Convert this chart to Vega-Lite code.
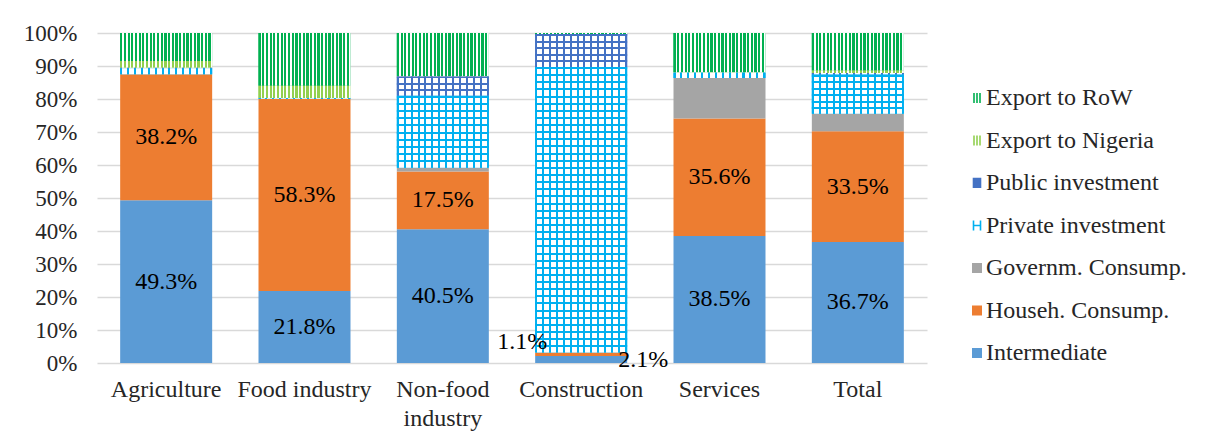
{
  "$schema": "https://vega.github.io/schema/vega-lite/v6.json",
  "width": 830,
  "height": 330,
  "autosize": {"type": "none"},
  "padding": {"left": 97, "top": 33, "right": 285, "bottom": 85},
  "background": "white",
  "resolve": {"axis": {"y": "independent"}},
  "config": {
    "font": "Liberation Serif",
    "view": {"stroke": null},
    "axis": {"labelFont": "Liberation Serif", "labelFontSize": 23, "labelColor": "#262626", "title": null},
    "legend": {"labelFont": "Liberation Serif", "labelFontSize": 24, "labelColor": "#262626", "labelLimit": 0}
  },
  "data": {
    "values": [
      {"category": "Agriculture", "series": "Intermediate", "rank": 1, "value": 0.493},
      {"category": "Agriculture", "series": "Househ. Consump.", "rank": 2, "value": 0.382},
      {"category": "Agriculture", "series": "Private investment", "rank": 4, "value": 0.018},
      {"category": "Agriculture", "series": "Public investment", "rank": 5, "value": 0.002},
      {"category": "Agriculture", "series": "Export to Nigeria", "rank": 6, "value": 0.02},
      {"category": "Agriculture", "series": "Export to RoW", "rank": 7, "value": 0.085},
      {"category": "Food industry", "series": "Intermediate", "rank": 1, "value": 0.218},
      {"category": "Food industry", "series": "Househ. Consump.", "rank": 2, "value": 0.583},
      {"category": "Food industry", "series": "Private investment", "rank": 4, "value": 0.002},
      {"category": "Food industry", "series": "Export to Nigeria", "rank": 6, "value": 0.037},
      {"category": "Food industry", "series": "Export to RoW", "rank": 7, "value": 0.16},
      {"category": "Non-food industry", "series": "Intermediate", "rank": 1, "value": 0.405},
      {"category": "Non-food industry", "series": "Househ. Consump.", "rank": 2, "value": 0.175},
      {"category": "Non-food industry", "series": "Governm. Consump.", "rank": 3, "value": 0.012},
      {"category": "Non-food industry", "series": "Private investment", "rank": 4, "value": 0.218},
      {"category": "Non-food industry", "series": "Public investment", "rank": 5, "value": 0.058},
      {"category": "Non-food industry", "series": "Export to Nigeria", "rank": 6, "value": 0.002},
      {"category": "Non-food industry", "series": "Export to RoW", "rank": 7, "value": 0.13},
      {"category": "Construction", "series": "Intermediate", "rank": 1, "value": 0.021},
      {"category": "Construction", "series": "Househ. Consump.", "rank": 2, "value": 0.011},
      {"category": "Construction", "series": "Private investment", "rank": 4, "value": 0.865},
      {"category": "Construction", "series": "Public investment", "rank": 5, "value": 0.1},
      {"category": "Construction", "series": "Export to RoW", "rank": 7, "value": 0.003},
      {"category": "Services", "series": "Intermediate", "rank": 1, "value": 0.385},
      {"category": "Services", "series": "Househ. Consump.", "rank": 2, "value": 0.356},
      {"category": "Services", "series": "Governm. Consump.", "rank": 3, "value": 0.123},
      {"category": "Services", "series": "Private investment", "rank": 4, "value": 0.016},
      {"category": "Services", "series": "Export to Nigeria", "rank": 6, "value": 0.002},
      {"category": "Services", "series": "Export to RoW", "rank": 7, "value": 0.118},
      {"category": "Total", "series": "Intermediate", "rank": 1, "value": 0.367},
      {"category": "Total", "series": "Househ. Consump.", "rank": 2, "value": 0.335},
      {"category": "Total", "series": "Governm. Consump.", "rank": 3, "value": 0.053},
      {"category": "Total", "series": "Private investment", "rank": 4, "value": 0.119},
      {"category": "Total", "series": "Public investment", "rank": 5, "value": 0.005},
      {"category": "Total", "series": "Export to Nigeria", "rank": 6, "value": 0.007},
      {"category": "Total", "series": "Export to RoW", "rank": 7, "value": 0.114}
    ]
  },
  "transform": [
    {"stack": "value", "groupby": ["category"], "sort": [{"field": "rank", "order": "ascending"}], "as": ["y0", "y1"]}
  ],
  "encoding": {
    "x": {
      "field": "category", "type": "nominal",
      "sort": ["Agriculture", "Food industry", "Non-food industry", "Construction", "Services", "Total"],
      "scale": {"paddingInner": 0.335, "paddingOuter": 0.1675},
      "axis": {
        "title": null, "domain": false, "ticks": false, "tickSize": 0, "labelAngle": 0, "labelPadding": 14,
        "labelFontSize": 24, "labelLineHeight": 29, "labelLimit": 0,
        "labelExpr": "datum.label == 'Non-food industry' ? ['Non-food', 'industry'] : datum.label"
      }
    }
  },
  "layer": [
    {
      "mark": {"type": "bar"},
      "encoding": {
        "y": {
          "field": "y0", "type": "quantitative", "scale": {"domain": [0, 1], "nice": false},
          "axis": {"title": null, "values": [0, 0.1, 0.2, 0.3, 0.4, 0.5, 0.6, 0.7, 0.8, 0.9, 1], "format": ".0%", "labelOverlap": false, "domain": false, "ticks": false, "tickSize": 0, "labelPadding": 20, "grid": true, "gridColor": "#D9D9D9", "gridWidth": 1.5}
        },
        "y2": {"field": "y1"},
        "color": {
          "field": "series", "type": "nominal",
          "scale": {
            "domain": ["Export to RoW", "Export to Nigeria", "Public investment", "Private investment", "Governm. Consump.", "Househ. Consump.", "Intermediate"],
            "range": ["#00B050", "#92D050", "#4472C4", "#00B0F0", "#A5A5A5", "#ED7D31", "#5B9BD5"]
          },
          "legend": {
            "title": null, "orient": "none", "legendX": 868, "legendY": 53, "padding": 0,
            "symbolSize": 100, "rowPadding": 18.5, "labelOffset": -3, "symbolStrokeWidth": 1.5, "labelLimit": 0,
            "encode": {
              "symbols": {
                "update": {
                  "shape": {"signal": "(datum.label === 'Export to RoW' || datum.label === 'Export to Nigeria') ? 'M-0.6,-1V1M0,-1V1M0.6,-1V1' : datum.label === 'Public investment' ? 'M-0.7,1V-0.9H0.7V1M-0.7,0H0.7' : datum.label === 'Private investment' ? 'M-0.7,-1V1M0.7,-1V1M-0.7,0H0.7' : 'square'"},
                  "fill": {"signal": "indexof(['Export to RoW','Export to Nigeria','Public investment','Private investment'], datum.label) >= 0 ? 'transparent' : scale('color', datum.value)"},
                  "stroke": {"signal": "indexof(['Export to RoW','Export to Nigeria','Public investment','Private investment'], datum.label) >= 0 ? scale('color', datum.value) : 'transparent'"},
                  "strokeWidth": {"value": 1.6}
                }
              }
            }
          }
        },
        "order": {"field": "rank", "type": "quantitative"}
      }
    },
    {
      "transform": [{"filter": {"field": "series", "equal": "Export to RoW"}}],
      "mark": {"type": "bar", "fill": {"gradient": "linear", "x1": 0, "y1": 0, "x2": 1, "y2": 0, "stops": [
        {"offset": 0, "color": "#00B050"}, {"offset": 0.024, "color": "#00B050"}, {"offset": 0.024, "color": "#ffffff"}, {"offset": 0.04, "color": "#ffffff"},
        {"offset": 0.04, "color": "#00B050"}, {"offset": 0.064, "color": "#00B050"}, {"offset": 0.064, "color": "#ffffff"}, {"offset": 0.08, "color": "#ffffff"},
        {"offset": 0.08, "color": "#00B050"}, {"offset": 0.104, "color": "#00B050"}, {"offset": 0.104, "color": "#ffffff"}, {"offset": 0.12, "color": "#ffffff"},
        {"offset": 0.12, "color": "#00B050"}, {"offset": 0.144, "color": "#00B050"}, {"offset": 0.144, "color": "#ffffff"}, {"offset": 0.16, "color": "#ffffff"},
        {"offset": 0.16, "color": "#00B050"}, {"offset": 0.184, "color": "#00B050"}, {"offset": 0.184, "color": "#ffffff"}, {"offset": 0.2, "color": "#ffffff"},
        {"offset": 0.2, "color": "#00B050"}, {"offset": 0.224, "color": "#00B050"}, {"offset": 0.224, "color": "#ffffff"}, {"offset": 0.24, "color": "#ffffff"},
        {"offset": 0.24, "color": "#00B050"}, {"offset": 0.264, "color": "#00B050"}, {"offset": 0.264, "color": "#ffffff"}, {"offset": 0.28, "color": "#ffffff"},
        {"offset": 0.28, "color": "#00B050"}, {"offset": 0.304, "color": "#00B050"}, {"offset": 0.304, "color": "#ffffff"}, {"offset": 0.32, "color": "#ffffff"},
        {"offset": 0.32, "color": "#00B050"}, {"offset": 0.344, "color": "#00B050"}, {"offset": 0.344, "color": "#ffffff"}, {"offset": 0.36, "color": "#ffffff"},
        {"offset": 0.36, "color": "#00B050"}, {"offset": 0.384, "color": "#00B050"}, {"offset": 0.384, "color": "#ffffff"}, {"offset": 0.4, "color": "#ffffff"},
        {"offset": 0.4, "color": "#00B050"}, {"offset": 0.424, "color": "#00B050"}, {"offset": 0.424, "color": "#ffffff"}, {"offset": 0.44, "color": "#ffffff"},
        {"offset": 0.44, "color": "#00B050"}, {"offset": 0.464, "color": "#00B050"}, {"offset": 0.464, "color": "#ffffff"}, {"offset": 0.48, "color": "#ffffff"},
        {"offset": 0.48, "color": "#00B050"}, {"offset": 0.504, "color": "#00B050"}, {"offset": 0.504, "color": "#ffffff"}, {"offset": 0.52, "color": "#ffffff"},
        {"offset": 0.52, "color": "#00B050"}, {"offset": 0.544, "color": "#00B050"}, {"offset": 0.544, "color": "#ffffff"}, {"offset": 0.56, "color": "#ffffff"},
        {"offset": 0.56, "color": "#00B050"}, {"offset": 0.584, "color": "#00B050"}, {"offset": 0.584, "color": "#ffffff"}, {"offset": 0.6, "color": "#ffffff"},
        {"offset": 0.6, "color": "#00B050"}, {"offset": 0.624, "color": "#00B050"}, {"offset": 0.624, "color": "#ffffff"}, {"offset": 0.64, "color": "#ffffff"},
        {"offset": 0.64, "color": "#00B050"}, {"offset": 0.664, "color": "#00B050"}, {"offset": 0.664, "color": "#ffffff"}, {"offset": 0.68, "color": "#ffffff"},
        {"offset": 0.68, "color": "#00B050"}, {"offset": 0.704, "color": "#00B050"}, {"offset": 0.704, "color": "#ffffff"}, {"offset": 0.72, "color": "#ffffff"},
        {"offset": 0.72, "color": "#00B050"}, {"offset": 0.744, "color": "#00B050"}, {"offset": 0.744, "color": "#ffffff"}, {"offset": 0.76, "color": "#ffffff"},
        {"offset": 0.76, "color": "#00B050"}, {"offset": 0.784, "color": "#00B050"}, {"offset": 0.784, "color": "#ffffff"}, {"offset": 0.8, "color": "#ffffff"},
        {"offset": 0.8, "color": "#00B050"}, {"offset": 0.824, "color": "#00B050"}, {"offset": 0.824, "color": "#ffffff"}, {"offset": 0.84, "color": "#ffffff"},
        {"offset": 0.84, "color": "#00B050"}, {"offset": 0.864, "color": "#00B050"}, {"offset": 0.864, "color": "#ffffff"}, {"offset": 0.88, "color": "#ffffff"},
        {"offset": 0.88, "color": "#00B050"}, {"offset": 0.904, "color": "#00B050"}, {"offset": 0.904, "color": "#ffffff"}, {"offset": 0.92, "color": "#ffffff"},
        {"offset": 0.92, "color": "#00B050"}, {"offset": 0.944, "color": "#00B050"}, {"offset": 0.944, "color": "#ffffff"}, {"offset": 0.96, "color": "#ffffff"},
        {"offset": 0.96, "color": "#00B050"}, {"offset": 0.984, "color": "#00B050"}, {"offset": 0.984, "color": "#ffffff"}, {"offset": 1, "color": "#ffffff"}
      ]}},
      "encoding": {"y": {"field": "y0", "type": "quantitative", "axis": null}, "y2": {"field": "y1"}}
    },
    {
      "transform": [{"filter": {"field": "series", "equal": "Export to Nigeria"}}],
      "mark": {"type": "bar", "fill": {"gradient": "linear", "x1": 0, "y1": 0, "x2": 1, "y2": 0, "stops": [
        {"offset": 0, "color": "#92D050"}, {"offset": 0.024, "color": "#92D050"}, {"offset": 0.024, "color": "#ffffff"}, {"offset": 0.04, "color": "#ffffff"},
        {"offset": 0.04, "color": "#92D050"}, {"offset": 0.064, "color": "#92D050"}, {"offset": 0.064, "color": "#ffffff"}, {"offset": 0.08, "color": "#ffffff"},
        {"offset": 0.08, "color": "#92D050"}, {"offset": 0.104, "color": "#92D050"}, {"offset": 0.104, "color": "#ffffff"}, {"offset": 0.12, "color": "#ffffff"},
        {"offset": 0.12, "color": "#92D050"}, {"offset": 0.144, "color": "#92D050"}, {"offset": 0.144, "color": "#ffffff"}, {"offset": 0.16, "color": "#ffffff"},
        {"offset": 0.16, "color": "#92D050"}, {"offset": 0.184, "color": "#92D050"}, {"offset": 0.184, "color": "#ffffff"}, {"offset": 0.2, "color": "#ffffff"},
        {"offset": 0.2, "color": "#92D050"}, {"offset": 0.224, "color": "#92D050"}, {"offset": 0.224, "color": "#ffffff"}, {"offset": 0.24, "color": "#ffffff"},
        {"offset": 0.24, "color": "#92D050"}, {"offset": 0.264, "color": "#92D050"}, {"offset": 0.264, "color": "#ffffff"}, {"offset": 0.28, "color": "#ffffff"},
        {"offset": 0.28, "color": "#92D050"}, {"offset": 0.304, "color": "#92D050"}, {"offset": 0.304, "color": "#ffffff"}, {"offset": 0.32, "color": "#ffffff"},
        {"offset": 0.32, "color": "#92D050"}, {"offset": 0.344, "color": "#92D050"}, {"offset": 0.344, "color": "#ffffff"}, {"offset": 0.36, "color": "#ffffff"},
        {"offset": 0.36, "color": "#92D050"}, {"offset": 0.384, "color": "#92D050"}, {"offset": 0.384, "color": "#ffffff"}, {"offset": 0.4, "color": "#ffffff"},
        {"offset": 0.4, "color": "#92D050"}, {"offset": 0.424, "color": "#92D050"}, {"offset": 0.424, "color": "#ffffff"}, {"offset": 0.44, "color": "#ffffff"},
        {"offset": 0.44, "color": "#92D050"}, {"offset": 0.464, "color": "#92D050"}, {"offset": 0.464, "color": "#ffffff"}, {"offset": 0.48, "color": "#ffffff"},
        {"offset": 0.48, "color": "#92D050"}, {"offset": 0.504, "color": "#92D050"}, {"offset": 0.504, "color": "#ffffff"}, {"offset": 0.52, "color": "#ffffff"},
        {"offset": 0.52, "color": "#92D050"}, {"offset": 0.544, "color": "#92D050"}, {"offset": 0.544, "color": "#ffffff"}, {"offset": 0.56, "color": "#ffffff"},
        {"offset": 0.56, "color": "#92D050"}, {"offset": 0.584, "color": "#92D050"}, {"offset": 0.584, "color": "#ffffff"}, {"offset": 0.6, "color": "#ffffff"},
        {"offset": 0.6, "color": "#92D050"}, {"offset": 0.624, "color": "#92D050"}, {"offset": 0.624, "color": "#ffffff"}, {"offset": 0.64, "color": "#ffffff"},
        {"offset": 0.64, "color": "#92D050"}, {"offset": 0.664, "color": "#92D050"}, {"offset": 0.664, "color": "#ffffff"}, {"offset": 0.68, "color": "#ffffff"},
        {"offset": 0.68, "color": "#92D050"}, {"offset": 0.704, "color": "#92D050"}, {"offset": 0.704, "color": "#ffffff"}, {"offset": 0.72, "color": "#ffffff"},
        {"offset": 0.72, "color": "#92D050"}, {"offset": 0.744, "color": "#92D050"}, {"offset": 0.744, "color": "#ffffff"}, {"offset": 0.76, "color": "#ffffff"},
        {"offset": 0.76, "color": "#92D050"}, {"offset": 0.784, "color": "#92D050"}, {"offset": 0.784, "color": "#ffffff"}, {"offset": 0.8, "color": "#ffffff"},
        {"offset": 0.8, "color": "#92D050"}, {"offset": 0.824, "color": "#92D050"}, {"offset": 0.824, "color": "#ffffff"}, {"offset": 0.84, "color": "#ffffff"},
        {"offset": 0.84, "color": "#92D050"}, {"offset": 0.864, "color": "#92D050"}, {"offset": 0.864, "color": "#ffffff"}, {"offset": 0.88, "color": "#ffffff"},
        {"offset": 0.88, "color": "#92D050"}, {"offset": 0.904, "color": "#92D050"}, {"offset": 0.904, "color": "#ffffff"}, {"offset": 0.92, "color": "#ffffff"},
        {"offset": 0.92, "color": "#92D050"}, {"offset": 0.944, "color": "#92D050"}, {"offset": 0.944, "color": "#ffffff"}, {"offset": 0.96, "color": "#ffffff"},
        {"offset": 0.96, "color": "#92D050"}, {"offset": 0.984, "color": "#92D050"}, {"offset": 0.984, "color": "#ffffff"}, {"offset": 1, "color": "#ffffff"}
      ]}},
      "encoding": {"y": {"field": "y0", "type": "quantitative", "axis": null}, "y2": {"field": "y1"}}
    },
    {
      "transform": [{"filter": {"field": "series", "equal": "Private investment"}}],
      "mark": {"type": "bar", "fill": {"gradient": "linear", "x1": 0, "y1": 0, "x2": 1, "y2": 0, "stops": [
        {"offset": 0, "color": "#00B0F0"}, {"offset": 0.022, "color": "#00B0F0"}, {"offset": 0.022, "color": "#ffffff"}, {"offset": 0.075, "color": "#ffffff"},
        {"offset": 0.075, "color": "#00B0F0"}, {"offset": 0.097, "color": "#00B0F0"}, {"offset": 0.097, "color": "#ffffff"}, {"offset": 0.15, "color": "#ffffff"},
        {"offset": 0.15, "color": "#00B0F0"}, {"offset": 0.172, "color": "#00B0F0"}, {"offset": 0.172, "color": "#ffffff"}, {"offset": 0.225, "color": "#ffffff"},
        {"offset": 0.225, "color": "#00B0F0"}, {"offset": 0.247, "color": "#00B0F0"}, {"offset": 0.247, "color": "#ffffff"}, {"offset": 0.3, "color": "#ffffff"},
        {"offset": 0.3, "color": "#00B0F0"}, {"offset": 0.322, "color": "#00B0F0"}, {"offset": 0.322, "color": "#ffffff"}, {"offset": 0.375, "color": "#ffffff"},
        {"offset": 0.375, "color": "#00B0F0"}, {"offset": 0.397, "color": "#00B0F0"}, {"offset": 0.397, "color": "#ffffff"}, {"offset": 0.45, "color": "#ffffff"},
        {"offset": 0.45, "color": "#00B0F0"}, {"offset": 0.472, "color": "#00B0F0"}, {"offset": 0.472, "color": "#ffffff"}, {"offset": 0.525, "color": "#ffffff"},
        {"offset": 0.525, "color": "#00B0F0"}, {"offset": 0.547, "color": "#00B0F0"}, {"offset": 0.547, "color": "#ffffff"}, {"offset": 0.6, "color": "#ffffff"},
        {"offset": 0.6, "color": "#00B0F0"}, {"offset": 0.622, "color": "#00B0F0"}, {"offset": 0.622, "color": "#ffffff"}, {"offset": 0.675, "color": "#ffffff"},
        {"offset": 0.675, "color": "#00B0F0"}, {"offset": 0.697, "color": "#00B0F0"}, {"offset": 0.697, "color": "#ffffff"}, {"offset": 0.75, "color": "#ffffff"},
        {"offset": 0.75, "color": "#00B0F0"}, {"offset": 0.772, "color": "#00B0F0"}, {"offset": 0.772, "color": "#ffffff"}, {"offset": 0.825, "color": "#ffffff"},
        {"offset": 0.825, "color": "#00B0F0"}, {"offset": 0.847, "color": "#00B0F0"}, {"offset": 0.847, "color": "#ffffff"}, {"offset": 0.9, "color": "#ffffff"},
        {"offset": 0.9, "color": "#00B0F0"}, {"offset": 0.922, "color": "#00B0F0"}, {"offset": 0.922, "color": "#ffffff"}, {"offset": 0.975, "color": "#ffffff"},
        {"offset": 0.975, "color": "#00B0F0"}, {"offset": 1, "color": "#00B0F0"}
      ]}},
      "encoding": {"y": {"field": "y0", "type": "quantitative", "axis": null}, "y2": {"field": "y1"}}
    },
    {
      "transform": [{"filter": {"field": "series", "equal": "Public investment"}}],
      "mark": {"type": "bar", "fill": {"gradient": "linear", "x1": 0, "y1": 0, "x2": 1, "y2": 0, "stops": [
        {"offset": 0, "color": "#4472C4"}, {"offset": 0.022, "color": "#4472C4"}, {"offset": 0.022, "color": "#ffffff"}, {"offset": 0.075, "color": "#ffffff"},
        {"offset": 0.075, "color": "#4472C4"}, {"offset": 0.097, "color": "#4472C4"}, {"offset": 0.097, "color": "#ffffff"}, {"offset": 0.15, "color": "#ffffff"},
        {"offset": 0.15, "color": "#4472C4"}, {"offset": 0.172, "color": "#4472C4"}, {"offset": 0.172, "color": "#ffffff"}, {"offset": 0.225, "color": "#ffffff"},
        {"offset": 0.225, "color": "#4472C4"}, {"offset": 0.247, "color": "#4472C4"}, {"offset": 0.247, "color": "#ffffff"}, {"offset": 0.3, "color": "#ffffff"},
        {"offset": 0.3, "color": "#4472C4"}, {"offset": 0.322, "color": "#4472C4"}, {"offset": 0.322, "color": "#ffffff"}, {"offset": 0.375, "color": "#ffffff"},
        {"offset": 0.375, "color": "#4472C4"}, {"offset": 0.397, "color": "#4472C4"}, {"offset": 0.397, "color": "#ffffff"}, {"offset": 0.45, "color": "#ffffff"},
        {"offset": 0.45, "color": "#4472C4"}, {"offset": 0.472, "color": "#4472C4"}, {"offset": 0.472, "color": "#ffffff"}, {"offset": 0.525, "color": "#ffffff"},
        {"offset": 0.525, "color": "#4472C4"}, {"offset": 0.547, "color": "#4472C4"}, {"offset": 0.547, "color": "#ffffff"}, {"offset": 0.6, "color": "#ffffff"},
        {"offset": 0.6, "color": "#4472C4"}, {"offset": 0.622, "color": "#4472C4"}, {"offset": 0.622, "color": "#ffffff"}, {"offset": 0.675, "color": "#ffffff"},
        {"offset": 0.675, "color": "#4472C4"}, {"offset": 0.697, "color": "#4472C4"}, {"offset": 0.697, "color": "#ffffff"}, {"offset": 0.75, "color": "#ffffff"},
        {"offset": 0.75, "color": "#4472C4"}, {"offset": 0.772, "color": "#4472C4"}, {"offset": 0.772, "color": "#ffffff"}, {"offset": 0.825, "color": "#ffffff"},
        {"offset": 0.825, "color": "#4472C4"}, {"offset": 0.847, "color": "#4472C4"}, {"offset": 0.847, "color": "#ffffff"}, {"offset": 0.9, "color": "#ffffff"},
        {"offset": 0.9, "color": "#4472C4"}, {"offset": 0.922, "color": "#4472C4"}, {"offset": 0.922, "color": "#ffffff"}, {"offset": 0.975, "color": "#ffffff"},
        {"offset": 0.975, "color": "#4472C4"}, {"offset": 1, "color": "#4472C4"}
      ]}},
      "encoding": {"y": {"field": "y0", "type": "quantitative", "axis": null}, "y2": {"field": "y1"}}
    },
    {
      "transform": [{"filter": {"and": [{"field": "series", "equal": "Private investment"}, {"field": "category", "equal": "Construction"}]}}],
      "mark": {"type": "bar", "fill": {"gradient": "linear", "x1": 0, "y1": 0, "x2": 0, "y2": 1, "stops": [
        {"offset": 0, "color": "#00B0F0"}, {"offset": 0.007, "color": "#00B0F0"}, {"offset": 0.007, "color": "rgba(0,176,240,0)"}, {"offset": 0.025, "color": "rgba(0,176,240,0)"},
        {"offset": 0.025, "color": "#00B0F0"}, {"offset": 0.032, "color": "#00B0F0"}, {"offset": 0.032, "color": "rgba(0,176,240,0)"}, {"offset": 0.05, "color": "rgba(0,176,240,0)"},
        {"offset": 0.05, "color": "#00B0F0"}, {"offset": 0.057, "color": "#00B0F0"}, {"offset": 0.057, "color": "rgba(0,176,240,0)"}, {"offset": 0.075, "color": "rgba(0,176,240,0)"},
        {"offset": 0.075, "color": "#00B0F0"}, {"offset": 0.082, "color": "#00B0F0"}, {"offset": 0.082, "color": "rgba(0,176,240,0)"}, {"offset": 0.1, "color": "rgba(0,176,240,0)"},
        {"offset": 0.1, "color": "#00B0F0"}, {"offset": 0.107, "color": "#00B0F0"}, {"offset": 0.107, "color": "rgba(0,176,240,0)"}, {"offset": 0.125, "color": "rgba(0,176,240,0)"},
        {"offset": 0.125, "color": "#00B0F0"}, {"offset": 0.132, "color": "#00B0F0"}, {"offset": 0.132, "color": "rgba(0,176,240,0)"}, {"offset": 0.15, "color": "rgba(0,176,240,0)"},
        {"offset": 0.15, "color": "#00B0F0"}, {"offset": 0.157, "color": "#00B0F0"}, {"offset": 0.157, "color": "rgba(0,176,240,0)"}, {"offset": 0.175, "color": "rgba(0,176,240,0)"},
        {"offset": 0.175, "color": "#00B0F0"}, {"offset": 0.182, "color": "#00B0F0"}, {"offset": 0.182, "color": "rgba(0,176,240,0)"}, {"offset": 0.2, "color": "rgba(0,176,240,0)"},
        {"offset": 0.2, "color": "#00B0F0"}, {"offset": 0.207, "color": "#00B0F0"}, {"offset": 0.207, "color": "rgba(0,176,240,0)"}, {"offset": 0.225, "color": "rgba(0,176,240,0)"},
        {"offset": 0.225, "color": "#00B0F0"}, {"offset": 0.232, "color": "#00B0F0"}, {"offset": 0.232, "color": "rgba(0,176,240,0)"}, {"offset": 0.25, "color": "rgba(0,176,240,0)"},
        {"offset": 0.25, "color": "#00B0F0"}, {"offset": 0.257, "color": "#00B0F0"}, {"offset": 0.257, "color": "rgba(0,176,240,0)"}, {"offset": 0.275, "color": "rgba(0,176,240,0)"},
        {"offset": 0.275, "color": "#00B0F0"}, {"offset": 0.282, "color": "#00B0F0"}, {"offset": 0.282, "color": "rgba(0,176,240,0)"}, {"offset": 0.3, "color": "rgba(0,176,240,0)"},
        {"offset": 0.3, "color": "#00B0F0"}, {"offset": 0.307, "color": "#00B0F0"}, {"offset": 0.307, "color": "rgba(0,176,240,0)"}, {"offset": 0.325, "color": "rgba(0,176,240,0)"},
        {"offset": 0.325, "color": "#00B0F0"}, {"offset": 0.332, "color": "#00B0F0"}, {"offset": 0.332, "color": "rgba(0,176,240,0)"}, {"offset": 0.35, "color": "rgba(0,176,240,0)"},
        {"offset": 0.35, "color": "#00B0F0"}, {"offset": 0.357, "color": "#00B0F0"}, {"offset": 0.357, "color": "rgba(0,176,240,0)"}, {"offset": 0.375, "color": "rgba(0,176,240,0)"},
        {"offset": 0.375, "color": "#00B0F0"}, {"offset": 0.382, "color": "#00B0F0"}, {"offset": 0.382, "color": "rgba(0,176,240,0)"}, {"offset": 0.4, "color": "rgba(0,176,240,0)"},
        {"offset": 0.4, "color": "#00B0F0"}, {"offset": 0.407, "color": "#00B0F0"}, {"offset": 0.407, "color": "rgba(0,176,240,0)"}, {"offset": 0.425, "color": "rgba(0,176,240,0)"},
        {"offset": 0.425, "color": "#00B0F0"}, {"offset": 0.432, "color": "#00B0F0"}, {"offset": 0.432, "color": "rgba(0,176,240,0)"}, {"offset": 0.45, "color": "rgba(0,176,240,0)"},
        {"offset": 0.45, "color": "#00B0F0"}, {"offset": 0.457, "color": "#00B0F0"}, {"offset": 0.457, "color": "rgba(0,176,240,0)"}, {"offset": 0.475, "color": "rgba(0,176,240,0)"},
        {"offset": 0.475, "color": "#00B0F0"}, {"offset": 0.482, "color": "#00B0F0"}, {"offset": 0.482, "color": "rgba(0,176,240,0)"}, {"offset": 0.5, "color": "rgba(0,176,240,0)"},
        {"offset": 0.5, "color": "#00B0F0"}, {"offset": 0.507, "color": "#00B0F0"}, {"offset": 0.507, "color": "rgba(0,176,240,0)"}, {"offset": 0.525, "color": "rgba(0,176,240,0)"},
        {"offset": 0.525, "color": "#00B0F0"}, {"offset": 0.532, "color": "#00B0F0"}, {"offset": 0.532, "color": "rgba(0,176,240,0)"}, {"offset": 0.55, "color": "rgba(0,176,240,0)"},
        {"offset": 0.55, "color": "#00B0F0"}, {"offset": 0.557, "color": "#00B0F0"}, {"offset": 0.557, "color": "rgba(0,176,240,0)"}, {"offset": 0.575, "color": "rgba(0,176,240,0)"},
        {"offset": 0.575, "color": "#00B0F0"}, {"offset": 0.582, "color": "#00B0F0"}, {"offset": 0.582, "color": "rgba(0,176,240,0)"}, {"offset": 0.6, "color": "rgba(0,176,240,0)"},
        {"offset": 0.6, "color": "#00B0F0"}, {"offset": 0.607, "color": "#00B0F0"}, {"offset": 0.607, "color": "rgba(0,176,240,0)"}, {"offset": 0.625, "color": "rgba(0,176,240,0)"},
        {"offset": 0.625, "color": "#00B0F0"}, {"offset": 0.632, "color": "#00B0F0"}, {"offset": 0.632, "color": "rgba(0,176,240,0)"}, {"offset": 0.65, "color": "rgba(0,176,240,0)"},
        {"offset": 0.65, "color": "#00B0F0"}, {"offset": 0.657, "color": "#00B0F0"}, {"offset": 0.657, "color": "rgba(0,176,240,0)"}, {"offset": 0.675, "color": "rgba(0,176,240,0)"},
        {"offset": 0.675, "color": "#00B0F0"}, {"offset": 0.682, "color": "#00B0F0"}, {"offset": 0.682, "color": "rgba(0,176,240,0)"}, {"offset": 0.7, "color": "rgba(0,176,240,0)"},
        {"offset": 0.7, "color": "#00B0F0"}, {"offset": 0.707, "color": "#00B0F0"}, {"offset": 0.707, "color": "rgba(0,176,240,0)"}, {"offset": 0.725, "color": "rgba(0,176,240,0)"},
        {"offset": 0.725, "color": "#00B0F0"}, {"offset": 0.732, "color": "#00B0F0"}, {"offset": 0.732, "color": "rgba(0,176,240,0)"}, {"offset": 0.75, "color": "rgba(0,176,240,0)"},
        {"offset": 0.75, "color": "#00B0F0"}, {"offset": 0.757, "color": "#00B0F0"}, {"offset": 0.757, "color": "rgba(0,176,240,0)"}, {"offset": 0.775, "color": "rgba(0,176,240,0)"},
        {"offset": 0.775, "color": "#00B0F0"}, {"offset": 0.782, "color": "#00B0F0"}, {"offset": 0.782, "color": "rgba(0,176,240,0)"}, {"offset": 0.8, "color": "rgba(0,176,240,0)"},
        {"offset": 0.8, "color": "#00B0F0"}, {"offset": 0.807, "color": "#00B0F0"}, {"offset": 0.807, "color": "rgba(0,176,240,0)"}, {"offset": 0.825, "color": "rgba(0,176,240,0)"},
        {"offset": 0.825, "color": "#00B0F0"}, {"offset": 0.832, "color": "#00B0F0"}, {"offset": 0.832, "color": "rgba(0,176,240,0)"}, {"offset": 0.85, "color": "rgba(0,176,240,0)"},
        {"offset": 0.85, "color": "#00B0F0"}, {"offset": 0.857, "color": "#00B0F0"}, {"offset": 0.857, "color": "rgba(0,176,240,0)"}, {"offset": 0.875, "color": "rgba(0,176,240,0)"},
        {"offset": 0.875, "color": "#00B0F0"}, {"offset": 0.882, "color": "#00B0F0"}, {"offset": 0.882, "color": "rgba(0,176,240,0)"}, {"offset": 0.9, "color": "rgba(0,176,240,0)"},
        {"offset": 0.9, "color": "#00B0F0"}, {"offset": 0.907, "color": "#00B0F0"}, {"offset": 0.907, "color": "rgba(0,176,240,0)"}, {"offset": 0.925, "color": "rgba(0,176,240,0)"},
        {"offset": 0.925, "color": "#00B0F0"}, {"offset": 0.932, "color": "#00B0F0"}, {"offset": 0.932, "color": "rgba(0,176,240,0)"}, {"offset": 0.95, "color": "rgba(0,176,240,0)"},
        {"offset": 0.95, "color": "#00B0F0"}, {"offset": 0.957, "color": "#00B0F0"}, {"offset": 0.957, "color": "rgba(0,176,240,0)"}, {"offset": 0.975, "color": "rgba(0,176,240,0)"},
        {"offset": 0.975, "color": "#00B0F0"}, {"offset": 0.982, "color": "#00B0F0"}, {"offset": 0.982, "color": "rgba(0,176,240,0)"}, {"offset": 1, "color": "rgba(0,176,240,0)"}
      ]}},
      "encoding": {"y": {"field": "y0", "type": "quantitative", "axis": null}, "y2": {"field": "y1"}}
    },
    {
      "transform": [{"filter": {"and": [{"field": "series", "equal": "Private investment"}, {"field": "category", "equal": "Non-food industry"}]}}],
      "mark": {"type": "bar", "fill": {"gradient": "linear", "x1": 0, "y1": 0, "x2": 0, "y2": 1, "stops": [
        {"offset": 0, "color": "#00B0F0"}, {"offset": 0.028, "color": "#00B0F0"}, {"offset": 0.028, "color": "rgba(0,176,240,0)"}, {"offset": 0.1, "color": "rgba(0,176,240,0)"},
        {"offset": 0.1, "color": "#00B0F0"}, {"offset": 0.128, "color": "#00B0F0"}, {"offset": 0.128, "color": "rgba(0,176,240,0)"}, {"offset": 0.2, "color": "rgba(0,176,240,0)"},
        {"offset": 0.2, "color": "#00B0F0"}, {"offset": 0.228, "color": "#00B0F0"}, {"offset": 0.228, "color": "rgba(0,176,240,0)"}, {"offset": 0.3, "color": "rgba(0,176,240,0)"},
        {"offset": 0.3, "color": "#00B0F0"}, {"offset": 0.328, "color": "#00B0F0"}, {"offset": 0.328, "color": "rgba(0,176,240,0)"}, {"offset": 0.4, "color": "rgba(0,176,240,0)"},
        {"offset": 0.4, "color": "#00B0F0"}, {"offset": 0.428, "color": "#00B0F0"}, {"offset": 0.428, "color": "rgba(0,176,240,0)"}, {"offset": 0.5, "color": "rgba(0,176,240,0)"},
        {"offset": 0.5, "color": "#00B0F0"}, {"offset": 0.528, "color": "#00B0F0"}, {"offset": 0.528, "color": "rgba(0,176,240,0)"}, {"offset": 0.6, "color": "rgba(0,176,240,0)"},
        {"offset": 0.6, "color": "#00B0F0"}, {"offset": 0.628, "color": "#00B0F0"}, {"offset": 0.628, "color": "rgba(0,176,240,0)"}, {"offset": 0.7, "color": "rgba(0,176,240,0)"},
        {"offset": 0.7, "color": "#00B0F0"}, {"offset": 0.728, "color": "#00B0F0"}, {"offset": 0.728, "color": "rgba(0,176,240,0)"}, {"offset": 0.8, "color": "rgba(0,176,240,0)"},
        {"offset": 0.8, "color": "#00B0F0"}, {"offset": 0.828, "color": "#00B0F0"}, {"offset": 0.828, "color": "rgba(0,176,240,0)"}, {"offset": 0.9, "color": "rgba(0,176,240,0)"},
        {"offset": 0.9, "color": "#00B0F0"}, {"offset": 0.928, "color": "#00B0F0"}, {"offset": 0.928, "color": "rgba(0,176,240,0)"}, {"offset": 1, "color": "rgba(0,176,240,0)"}
      ]}},
      "encoding": {"y": {"field": "y0", "type": "quantitative", "axis": null}, "y2": {"field": "y1"}}
    },
    {
      "transform": [{"filter": {"and": [{"field": "series", "equal": "Private investment"}, {"field": "category", "equal": "Total"}]}}],
      "mark": {"type": "bar", "fill": {"gradient": "linear", "x1": 0, "y1": 0, "x2": 0, "y2": 1, "stops": [
        {"offset": 0, "color": "#00B0F0"}, {"offset": 0.05, "color": "#00B0F0"}, {"offset": 0.05, "color": "rgba(0,176,240,0)"}, {"offset": 0.167, "color": "rgba(0,176,240,0)"},
        {"offset": 0.167, "color": "#00B0F0"}, {"offset": 0.217, "color": "#00B0F0"}, {"offset": 0.217, "color": "rgba(0,176,240,0)"}, {"offset": 0.333, "color": "rgba(0,176,240,0)"},
        {"offset": 0.333, "color": "#00B0F0"}, {"offset": 0.383, "color": "#00B0F0"}, {"offset": 0.383, "color": "rgba(0,176,240,0)"}, {"offset": 0.5, "color": "rgba(0,176,240,0)"},
        {"offset": 0.5, "color": "#00B0F0"}, {"offset": 0.55, "color": "#00B0F0"}, {"offset": 0.55, "color": "rgba(0,176,240,0)"}, {"offset": 0.667, "color": "rgba(0,176,240,0)"},
        {"offset": 0.667, "color": "#00B0F0"}, {"offset": 0.717, "color": "#00B0F0"}, {"offset": 0.717, "color": "rgba(0,176,240,0)"}, {"offset": 0.833, "color": "rgba(0,176,240,0)"},
        {"offset": 0.833, "color": "#00B0F0"}, {"offset": 0.883, "color": "#00B0F0"}, {"offset": 0.883, "color": "rgba(0,176,240,0)"}, {"offset": 1, "color": "rgba(0,176,240,0)"}
      ]}},
      "encoding": {"y": {"field": "y0", "type": "quantitative", "axis": null}, "y2": {"field": "y1"}}
    },
    {
      "transform": [{"filter": {"and": [{"field": "series", "equal": "Public investment"}, {"field": "category", "equal": "Construction"}]}}],
      "mark": {"type": "bar", "fill": {"gradient": "linear", "x1": 0, "y1": 0, "x2": 0, "y2": 1, "stops": [
        {"offset": 0, "color": "#4472C4"}, {"offset": 0.06, "color": "#4472C4"}, {"offset": 0.06, "color": "rgba(68,114,196,0)"}, {"offset": 0.2, "color": "rgba(68,114,196,0)"},
        {"offset": 0.2, "color": "#4472C4"}, {"offset": 0.26, "color": "#4472C4"}, {"offset": 0.26, "color": "rgba(68,114,196,0)"}, {"offset": 0.4, "color": "rgba(68,114,196,0)"},
        {"offset": 0.4, "color": "#4472C4"}, {"offset": 0.46, "color": "#4472C4"}, {"offset": 0.46, "color": "rgba(68,114,196,0)"}, {"offset": 0.6, "color": "rgba(68,114,196,0)"},
        {"offset": 0.6, "color": "#4472C4"}, {"offset": 0.66, "color": "#4472C4"}, {"offset": 0.66, "color": "rgba(68,114,196,0)"}, {"offset": 0.8, "color": "rgba(68,114,196,0)"},
        {"offset": 0.8, "color": "#4472C4"}, {"offset": 0.86, "color": "#4472C4"}, {"offset": 0.86, "color": "rgba(68,114,196,0)"}, {"offset": 1, "color": "rgba(68,114,196,0)"}
      ]}},
      "encoding": {"y": {"field": "y0", "type": "quantitative", "axis": null}, "y2": {"field": "y1"}}
    },
    {
      "transform": [{"filter": {"and": [{"field": "series", "equal": "Public investment"}, {"field": "category", "equal": "Non-food industry"}]}}],
      "mark": {"type": "bar", "fill": {"gradient": "linear", "x1": 0, "y1": 0, "x2": 0, "y2": 1, "stops": [
        {"offset": 0, "color": "#4472C4"}, {"offset": 0.1, "color": "#4472C4"}, {"offset": 0.1, "color": "rgba(68,114,196,0)"}, {"offset": 0.333, "color": "rgba(68,114,196,0)"},
        {"offset": 0.333, "color": "#4472C4"}, {"offset": 0.433, "color": "#4472C4"}, {"offset": 0.433, "color": "rgba(68,114,196,0)"}, {"offset": 0.667, "color": "rgba(68,114,196,0)"},
        {"offset": 0.667, "color": "#4472C4"}, {"offset": 0.767, "color": "#4472C4"}, {"offset": 0.767, "color": "rgba(68,114,196,0)"}, {"offset": 1, "color": "rgba(68,114,196,0)"}
      ]}},
      "encoding": {"y": {"field": "y0", "type": "quantitative", "axis": null}, "y2": {"field": "y1"}}
    },
    {
      "transform": [
        {"filter": {"and": [{"field": "series", "oneOf": ["Intermediate", "Househ. Consump."]}, {"not": {"field": "category", "equal": "Construction"}}]}},
        {"fold": ["y0", "y1"], "as": ["k", "pos"]},
        {"aggregate": [{"op": "mean", "field": "pos", "as": "mid"}], "groupby": ["category", "series", "value"]}
      ],
      "mark": {"type": "text", "font": "Liberation Serif", "fontSize": 24, "color": "#000000", "baseline": "middle", "align": "center"},
      "encoding": {
        "y": {"field": "mid", "type": "quantitative", "axis": null},
        "text": {"field": "value", "type": "quantitative", "format": ".1%"}
      }
    },
    {
      "transform": [{"filter": {"and": [{"field": "series", "equal": "Househ. Consump."}, {"field": "category", "equal": "Construction"}]}}],
      "mark": {"type": "text", "font": "Liberation Serif", "fontSize": 24, "color": "#000000", "baseline": "middle", "align": "right", "dx": -34, "dy": -10},
      "encoding": {
        "y": {"field": "y1", "type": "quantitative", "axis": null},
        "text": {"field": "value", "type": "quantitative", "format": ".1%"}
      }
    },
    {
      "transform": [{"filter": {"and": [{"field": "series", "equal": "Intermediate"}, {"field": "category", "equal": "Construction"}]}}],
      "mark": {"type": "text", "font": "Liberation Serif", "fontSize": 24, "color": "#000000", "baseline": "middle", "align": "left", "dx": 37, "dy": 4},
      "encoding": {
        "y": {"field": "y1", "type": "quantitative", "axis": null},
        "text": {"field": "value", "type": "quantitative", "format": ".1%"}
      }
    }
  ]
}
